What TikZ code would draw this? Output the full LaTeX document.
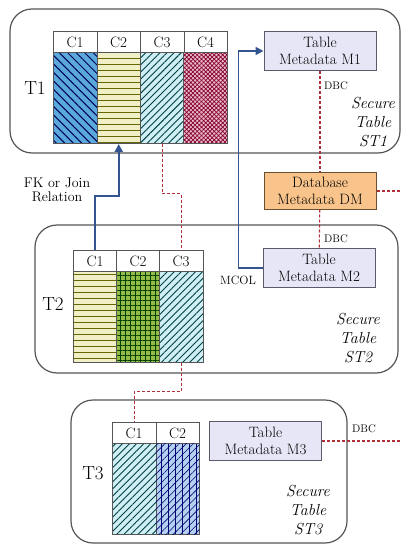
\documentclass[tikz,border=0pt]{standalone}
\usepackage{tikz}
\usetikzlibrary{arrows.meta}
\usetikzlibrary{patterns.meta}
\usetikzlibrary{positioning}

\definecolor{fkblue}{HTML}{34548F}
\definecolor{dbcred}{HTML}{B0303A}
\definecolor{boxgray}{HTML}{555555}
\definecolor{metafill}{HTML}{E6E6F6}
\definecolor{metaedge}{HTML}{5A5A6A}
\definecolor{dmfill}{HTML}{F8C48C}
\definecolor{dmedge}{HTML}{6A5030}
\definecolor{colblue}{HTML}{5BA8DA}
\definecolor{colyellow}{HTML}{F0EFC6}
\definecolor{colcyan}{HTML}{CFEEF6}
\definecolor{colpink}{HTML}{E9BACB}
\definecolor{colgreen}{HTML}{94BB48}
\definecolor{collight}{HTML}{B4D2F0}

\tikzset{
  bluediag/.style={preaction={fill=colblue}, pattern={Lines[angle=-45,distance=6pt,line width=1pt]}, pattern color=blue!35!black},
  yellowbars/.style={preaction={fill=colyellow}, pattern={Lines[angle=0,distance=6pt,line width=1pt]}, pattern color=olive!80!black},
  cyandiag/.style={preaction={fill=colcyan}, pattern={Lines[angle=45,distance=5pt,line width=0.9pt]}, pattern color=teal!50!black},
  pinkdots/.style={preaction={fill=colpink}, pattern={Hatch[angle=45,distance=3pt,line width=0.7pt]}, pattern color=purple!70!black},
  greengrid/.style={preaction={fill=colgreen}, pattern={Hatch[angle=0,distance=5pt,line width=0.8pt]}, pattern color=green!25!black},
  bluegrid/.style={preaction={fill=collight}, pattern={Lines[angle=90,distance=7pt,line width=0.8pt]}, pattern color=blue!45!black,
    postaction={pattern={Lines[angle=45,distance=5pt,line width=0.6pt]}, pattern color=blue!45!black}}
}

\begin{document}
\begin{tikzpicture}[x=1pt, y=-1pt]
	\tikzstyle{secure}=[draw=boxgray, line width=1.2pt, rounded corners=22pt]
	\tikzstyle{colhead}=[draw=boxgray, fill=white, line width=0.8pt, anchor=north west,
	                        minimum width=43.5pt, minimum height=21pt, inner sep=0pt,
	                        font=\fontsize{15}{16}\selectfont]
	\tikzstyle{colbody}=[draw=boxgray, line width=0.8pt, anchor=north west,
	                        minimum width=43.5pt, minimum height=91pt, inner sep=0pt]
	\tikzstyle{meta}=[draw=metaedge, fill=metafill, line width=1pt, minimum width=112pt,
	                        minimum height=39pt, inner sep=0pt, align=center,
	                        font=\fontsize{15}{17}\selectfont]
	\tikzstyle{fk}=[draw=fkblue, line width=1.8pt, -{Triangle[length=8pt,width=8pt]}]
	\tikzstyle{dbc}=[draw=dbcred, line width=1.1pt, dash pattern=on 3pt off 2pt]
	\tikzstyle{tname}=[font=\fontsize{19}{20}\selectfont]
	\tikzstyle{st}=[align=center, font=\fontsize{16}{19}\itshape]
	\tikzstyle{la}=[font=\fontsize{11}{12}\selectfont, inner sep=1pt]
	\useasboundingbox (0,0) rectangle (401,545);
	% secure table frames
	\draw[secure] (10,9) rectangle (400,153);
	\draw[secure] (35,225) rectangle (398,373);
	\draw[secure] (71,400) rectangle (347,543);
	% tables
	\foreach \c/\s in {1/bluediag, 2/yellowbars, 3/cyandiag, 4/pinkdots}
	{\node[colhead] (t1h\c) at ({53+43.5*(\c-1)}, 31) {C\c};
	 \node[colbody, \s] (t1c\c) at ({53+43.5*(\c-1)}, 52) {};}
	\foreach \c/\s in {1/yellowbars, 2/greengrid, 3/cyandiag}
	{\node[colhead] (t2h\c) at ({73+43*(\c-1)}, 250) {C\c};
	 \node[colbody, \s] (t2c\c) at ({73+43*(\c-1)}, 271) {};}
	\foreach \c/\s in {1/cyandiag, 2/bluegrid}
	{\node[colhead] (t3h\c) at ({112+43.5*(\c-1)}, 422) {C\c};
	 \node[colbody, \s] (t3c\c) at ({112+43.5*(\c-1)}, 443) {};}
	\node[tname] (T1) at (35,88) {T1};
	\node[tname] (T2) at (53,304) {T2};
	\node[tname] (T3) at (93,473) {T3};
	% metadata
	\node[meta] (M1) at (320,51) {Table\\Metadata M1};
	\node[meta, fill=dmfill, draw=dmedge, minimum height=36pt] (DM) at (320,191) {Database\\Metadata DM};
	\node[meta] (M2) at (319,268) {Table\\Metadata M2};
	\node[meta] (M3) at (265.5,441) {Table\\Metadata M3};
	\node[st] (ST1) at (373,122) {Secure\\Table\\ST1};
	\node[st] (ST2) at (358,338) {Secure\\Table\\ST2};
	\node[st] (ST3) at (308,510) {Secure\\Table\\ST3};
	\coordinate (rim) at (401,0);
	% connectors
	\draw[fk] (t2h1.north) -- ++(0,-54) -| (t1c2.south);
	\draw[fk] (M2.west) -- ++(-24,0) |- (M1.west);
	\draw[dbc] (t1c3.south) -- ++(0,50) -| (t2h3.north);
	\draw[dbc] (t2c3.south) -- ++(0,29) -| (t3h1.north);
	\draw[dbc] (M1) -- (DM);
	\draw[dbc] (DM) -- (M2);
	\draw[dbc] (DM.east) -- (DM.east -| rim);
	\draw[dbc] (M3.east) -- (M3.east -| rim);
	\node[font=\fontsize{14}{14}\selectfont, align=center, inner sep=1pt] (fkl) at (57,190) {FK or Join\\Relation};
	\node[la, right] at (323,86) {DBC};
	\node[la, right] at (323,239) {DBC};
	\node[la, right] at (351,429) {DBC};
	\node[la, font=\fontsize{12}{12}\selectfont] at (238,280) {MCOL};
\end{tikzpicture}
\end{document}
